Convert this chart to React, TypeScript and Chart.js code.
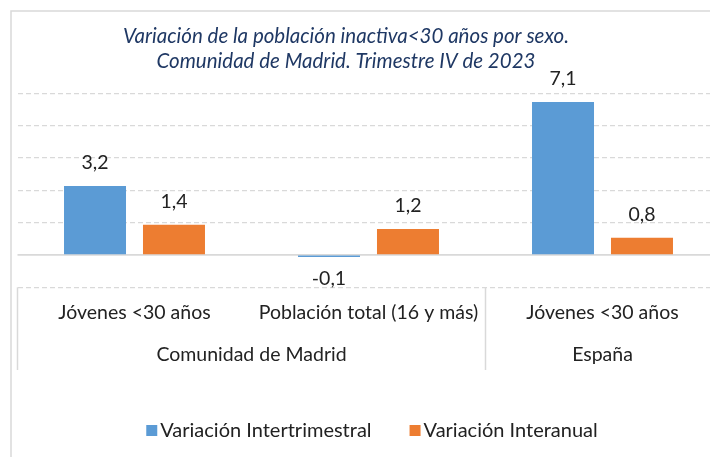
import React, { useEffect, useRef } from "react";
import { Chart, registerables } from "chart.js";

Chart.register(...registerables);

const categories = ["Jóvenes <30 años", "Población total (16 y más)", "Jóvenes <30 años"];
const groupLabels = ["Comunidad de Madrid", "España"];
const groupSpans = [2, 1];
const seriesNames = ["Variación Intertrimestral", "Variación Interanual"];
const intertrimestral = [3.2, -0.1, 7.1];
const interanual = [1.4, 1.2, 0.8];
const seriesColors = ["#5B9BD5", "#ED7D31"];
const titleLines = [
  "Variación de la población inactiva<30 años por sexo.",
  "Comunidad de Madrid. Trimestre IV de 2023",
];
const yMin = -1.5;
const yMax = 7.5;
const yStep = 1.5;

const FONT = 'Lato, "Noto Sans", sans-serif';
const TEXT = "#222222";
const LINE = "#d9d9d9";

const fmt = (v: number) => v.toFixed(1).replace(".", ",");

const decorPlugin = {
  id: "decor",
  beforeDraw(chart: any) {
    const ctx = chart.ctx;
    ctx.save();
    ctx.fillStyle = "#ffffff";
    ctx.fillRect(0, 0, chart.width, chart.height);
    ctx.strokeStyle = LINE;
    ctx.lineWidth = 1.5;
    ctx.strokeRect(11, 11, chart.width + 40, chart.height + 40);
    ctx.fillStyle = "#1F3864";
    ctx.font = `italic 20.5px ${FONT}`;
    ctx.textAlign = "center";
    ctx.textBaseline = "middle";
    titleLines.forEach((t, i) => ctx.fillText(t, 346, 36 + i * 25));
    ctx.restore();
  },
  beforeDatasetsDraw(chart: any) {
    const ctx = chart.ctx;
    const y0 = chart.scales.y.getPixelForValue(0);
    ctx.save();
    ctx.strokeStyle = LINE;
    ctx.lineWidth = 1.8;
    ctx.beginPath();
    ctx.moveTo(chart.chartArea.left, y0);
    ctx.lineTo(chart.chartArea.right, y0);
    ctx.stroke();
    ctx.restore();
  },
  afterDatasetsDraw(chart: any) {
    const ctx = chart.ctx;
    ctx.save();
    ctx.font = `19.5px ${FONT}`;
    ctx.fillStyle = TEXT;
    ctx.textAlign = "center";
    ctx.textBaseline = "middle";
    chart.data.datasets.forEach((ds: any, di: number) => {
      const meta = chart.getDatasetMeta(di);
      meta.data.forEach((bar: any, i: number) => {
        const v = ds.data[i];
        const { x, y } = bar.getProps(["x", "y"], true);
        const ty = v >= 0 ? y - 23 : y + 22;
        ctx.fillText(fmt(v), x, ty);
      });
    });
    ctx.restore();
  },
  afterDraw(chart: any) {
    const ctx = chart.ctx;
    const xs = chart.scales.x;
    const n = chart.data.labels.length;
    const w = (xs.right - xs.left) / n;
    const top = chart.chartArea.bottom;
    ctx.save();
    ctx.strokeStyle = LINE;
    ctx.lineWidth = 1.5;
    let k = 0;
    const bounds = [0];
    groupSpans.forEach((s) => {
      k += s;
      bounds.push(k);
    });
    bounds.forEach((b) => {
      const x = xs.left + b * w;
      ctx.beginPath();
      ctx.moveTo(x, top);
      ctx.lineTo(x, 370);
      ctx.stroke();
    });
    ctx.font = `19.5px ${FONT}`;
    ctx.fillStyle = TEXT;
    ctx.textAlign = "center";
    ctx.textBaseline = "middle";
    groupLabels.forEach((g, i) => {
      const cx = xs.left + ((bounds[i] + bounds[i + 1]) / 2) * w;
      ctx.fillText(g, cx, 355);
    });
    ctx.font = `20px ${FONT}`;
    const box = 11;
    const gap = 3;
    const spacing = 38;
    const widths = seriesNames.map((s) => box + gap + ctx.measureText(s).width);
    const total = widths.reduce((a, b) => a + b, 0) + spacing * (widths.length - 1);
    let lx = 372 - total / 2;
    ctx.textAlign = "left";
    chart.data.datasets.forEach((ds: any, i: number) => {
      ctx.fillStyle = ds.backgroundColor;
      ctx.fillRect(lx, 425, box, box);
      ctx.fillStyle = TEXT;
      ctx.fillText(ds.label, lx + box + gap, 431);
      lx += widths[i] + spacing;
    });
    ctx.restore();
  },
};

export default function App() {
  const ref = useRef<HTMLCanvasElement | null>(null);
  useEffect(() => {
    if (!ref.current) return;
    const chart = new Chart(ref.current, {
      type: "bar",
      data: {
        labels: categories,
        datasets: [
          {
            label: seriesNames[0],
            data: intertrimestral,
            backgroundColor: seriesColors[0],
            barPercentage: 0.785,
            categoryPercentage: 0.675,
          },
          {
            label: seriesNames[1],
            data: interanual,
            backgroundColor: seriesColors[1],
            barPercentage: 0.785,
            categoryPercentage: 0.675,
          },
        ],
      },
      options: {
        responsive: false,
        animation: false,
        devicePixelRatio: 1,
        layout: { padding: { left: 17.5, right: 20.5, top: 93.3, bottom: 0 }, autoPadding: false },
        plugins: {
          legend: { display: false },
          title: { display: false },
          tooltip: { enabled: false },
        },
        scales: {
          x: {
            grid: { display: false, drawTicks: false },
            border: { display: false },
            ticks: {
              padding: 14,
              maxRotation: 0,
              autoSkip: false,
              color: TEXT,
              font: { family: FONT, size: 19.5 },
            },
            afterFit: (scale: any) => {
              scale.height = 457 - 287.3;
            },
          },
          y: {
            min: yMin,
            max: yMax,
            ticks: { display: false, stepSize: yStep },
            grid: {
              drawTicks: false,
              lineWidth: 1.2,
              color: (c: any) => (c.tick && c.tick.value === 0 ? "rgba(0,0,0,0)" : LINE),
            },
            border: { display: false, dash: [5, 3] },
          },
        },
      },
      plugins: [decorPlugin],
    } as any);
    return () => chart.destroy();
  }, []);
  return (
    <div
      style={{
        position: "absolute",
        left: 0,
        top: 0,
        width: 710,
        height: 457,
        overflow: "hidden",
        background: "#fff",
      }}
    >
      <canvas ref={ref} width={740} height={457} style={{ display: "block" }} />
    </div>
  );
}
